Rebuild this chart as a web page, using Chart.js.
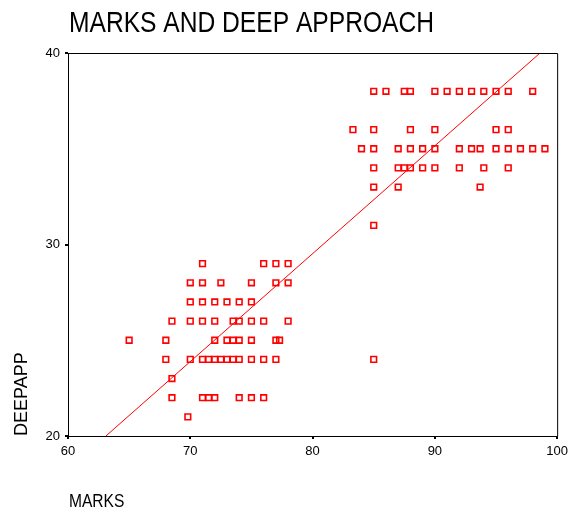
<!DOCTYPE html>
<html>
<head>
<meta charset="utf-8">
<script src="https://cdn.jsdelivr.net/npm/chart.js@4"></script>
<style>
  html, body { margin: 0; padding: 0; background: #fff; }
  #wrap { width: 573px; height: 516px; position: relative; }
</style>
</head>
<body>
<div id="wrap"><canvas id="chart"></canvas></div>
<script>
// Data: MARKS values at each DEEPAPP level
const deepLevels = [38, 36, 35, 34, 33, 31, 29, 28, 27, 26, 25, 24, 23, 22, 21];
const marksAt38 = [85, 86, 87.5, 88, 90, 91, 92, 93, 94, 95, 96, 98];
const marksAt36 = [83.3, 85, 88, 90, 95, 96];
const marksAt35 = [84, 85, 87, 88, 89, 90, 92, 93, 93.7, 95, 96, 97, 98, 99];
const marksAt34 = [85, 87, 87.5, 88, 89, 90, 92, 94, 96];
const marksAt33 = [85, 87, 93.7];
const marksAt31 = [85];
const marksAt29 = [71, 76, 77, 78];
const marksAt28 = [70, 71, 72.5, 75, 77, 78];
const marksAt27 = [70, 71, 72, 73, 74, 75];
const marksAt26 = [68.5, 70, 71, 72, 73.5, 74, 75, 76, 78];
const marksAt25 = [65, 68, 72, 73, 73.5, 74, 75, 77, 77.3];
const marksAt24 = [68, 70, 71, 71.5, 72, 72.5, 73, 73.5, 74, 75, 76, 77, 85];
const marksAt23 = [68.5];
const marksAt22 = [68.5, 71, 71.5, 72, 74, 75, 76];
const marksAt21 = [69.8];

// Fit line endpoints
const fitMarks = [63.1, 98.6];
const fitDeep = [20, 40];

// Axis ticks
const xTicks = [60, 70, 80, 90, 100];
const yTicks = [20, 30, 40];

const marksByLevel = [marksAt38, marksAt36, marksAt35, marksAt34, marksAt33, marksAt31,
  marksAt29, marksAt28, marksAt27, marksAt26, marksAt25, marksAt24, marksAt23, marksAt22, marksAt21];

const points = [];
deepLevels.forEach((d, i) => {
  marksByLevel[i].forEach(m => points.push({ x: m, y: d }));
});
const fitLine = fitMarks.map((m, i) => ({ x: m, y: fitDeep[i] }));

const REGULAR = "'Liberation Sans', Arial, sans-serif";

// narrow text: no Arial Narrow here, so squeeze Liberation Sans
function narrowText(ctx, text, x, y, size) {
  ctx.save();
  ctx.translate(x, y);
  ctx.scale(0.82, 1);
  ctx.font = size + 'px ' + REGULAR;
  ctx.fillStyle = '#000';
  ctx.textAlign = 'left';
  ctx.textBaseline = 'alphabetic';
  ctx.fillText(text, 0, 0);
  ctx.restore();
}

// Title, x axis label and top/right frame lines
const extras = {
  id: 'extras',
  afterDraw(chart) {
    const { ctx, chartArea: a } = chart;
    ctx.save();
    ctx.strokeStyle = '#000';
    ctx.lineWidth = 1;
    ctx.beginPath();
    ctx.moveTo(a.left, a.top + 0.5);
    ctx.lineTo(a.right + 0.5, a.top + 0.5);
    ctx.lineTo(a.right + 0.5, a.bottom);
    ctx.stroke();
    ctx.restore();
    narrowText(ctx, 'MARKS AND DEEP APPROACH', 69, 32, 30);
    narrowText(ctx, 'MARKS', 69, 507, 19);
  }
};

new Chart(document.getElementById('chart'), {
  type: 'scatter',
  data: {
    datasets: [
      {
        type: 'line',
        data: fitLine,
        borderColor: '#ff0000',
        borderWidth: 1,
        pointRadius: 0,
        fill: false
      },
      {
        data: points,
        pointStyle: 'rect',
        pointRadius: 4,
        borderWidth: 1.6,
        borderColor: '#ff0000',
        backgroundColor: 'rgba(0,0,0,0)'
      }
    ]
  },
  options: {
    responsive: true,
    maintainAspectRatio: false,
    animation: false,
    layout: { padding: { top: 53, right: 15, left: 0, bottom: 0 } },
    plugins: {
      legend: { display: false },
      tooltip: { enabled: false }
    },
    scales: {
      x: {
        type: 'linear',
        min: 60, max: 100,
        afterFit: s => { s.height = 80; },
        afterBuildTicks: s => { s.ticks = xTicks.map(v => ({ value: v })); },
        grid: { drawOnChartArea: false, drawTicks: true, tickLength: 3, lineWidth: 2, color: '#000' },
        border: { color: '#000', width: 1 },
        ticks: { color: '#000', padding: 5, maxRotation: 0, font: { family: REGULAR, size: 13 } },
        title: { display: false }
      },
      y: {
        type: 'linear',
        min: 20, max: 40,
        afterFit: s => { s.width = 68; },
        afterBuildTicks: s => { s.ticks = yTicks.map(v => ({ value: v })); },
        grid: { drawOnChartArea: false, drawTicks: true, tickLength: 3, lineWidth: 2, color: '#000' },
        border: { color: '#000', width: 1 },
        ticks: { color: '#000', padding: 5, font: { family: REGULAR, size: 13 } },
        title: {
          display: true, text: 'DEEPAPP', align: 'start', color: '#000',
          font: { family: REGULAR, size: 18 }, padding: { top: 11, bottom: 0 }
        }
      }
    }
  },
  plugins: [extras]
});
</script>
</body>
</html>
